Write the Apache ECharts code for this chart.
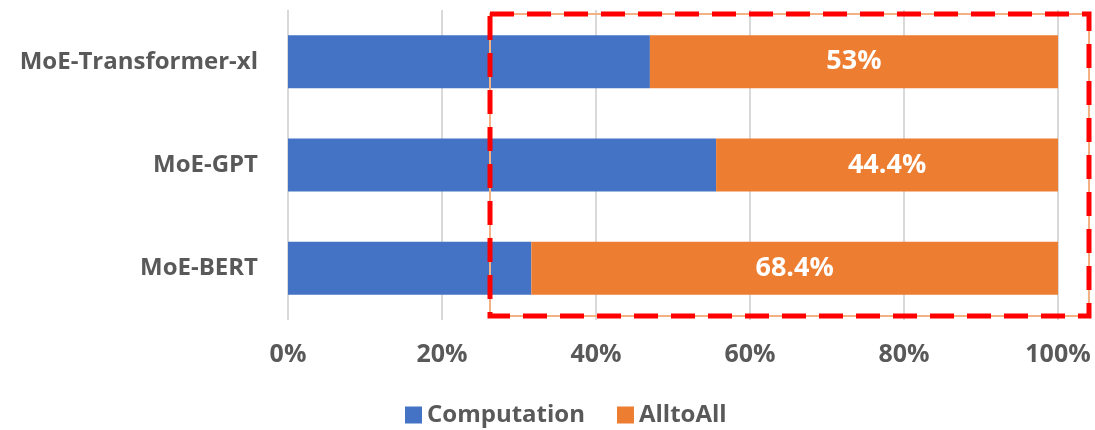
<!DOCTYPE html>
<html><head><meta charset="utf-8">
<script src="https://cdn.jsdelivr.net/npm/echarts@6/dist/echarts.min.js"></script>
<style>html,body{margin:0;padding:0;background:#fff}#c{width:1095px;height:430px}</style>
</head><body><div id="c"></div>
<script>
const categories = ['MoE-BERT', 'MoE-GPT', 'MoE-Transformer-xl'];
const computation = [31.6, 55.6, 47.0];
const alltoall = [68.4, 44.4, 53.0];
const alltoallLabels = ['68.4%', '44.4%', '53%'];
const seriesNames = ['Computation', 'AlltoAll'];

const chart = echarts.init(document.getElementById('c'));
const FONT = 'Open Sans';
chart.setOption({
  animation: false,
  grid: {left: 288, right: 37, top: 10, bottom: 110},
  legend: {
    top: 398, left: 400, itemWidth: 17, itemHeight: 17, itemGap: 32, itemTextGap: 8,
    icon: 'rect',
    textStyle: {fontFamily: FONT, fontWeight: 'bold', fontSize: 24, color: '#595959'},
    data: seriesNames
  },
  xAxis: {
    type: 'value', min: 0, max: 100, interval: 20,
    axisLine: {show: false}, axisTick: {show: false},
    splitLine: {lineStyle: {color: '#d9d9d9', width: 2}},
    axisLabel: {formatter: '{value}%', margin: 22, fontFamily: FONT, fontWeight: 'bold', fontSize: 25, color: '#595959'}
  },
  yAxis: {
    type: 'category', data: categories,
    axisLine: {show: false}, axisTick: {show: false},
    axisLabel: {margin: 30, fontFamily: FONT, fontWeight: 'bold', fontSize: 24, color: '#595959'}
  },
  series: [
    {name: seriesNames[0], type: 'bar', stack: 's', data: computation, barWidth: 53,
     itemStyle: {color: '#4472c4'}},
    {name: seriesNames[1], type: 'bar', stack: 's', data: alltoall, barWidth: 53,
     itemStyle: {color: '#ed7d31'},
     label: {show: true, position: 'inside', color: '#fff', fontFamily: FONT, fontWeight: 'bold', fontSize: 27,
       formatter: p => alltoallLabels[p.dataIndex]}}
  ],
  graphic: [
    {type: 'rect', shape: {x: 490, y: 14, width: 599, height: 302},
     style: {fill: 'none', stroke: '#f4b183', lineWidth: 2}, z: 100},
    {type: 'rect', shape: {x: 490, y: 14, width: 599, height: 302},
     style: {fill: 'none', stroke: '#ff0000', lineWidth: 5, lineDash: [24, 13]}, z: 101}
  ]
});
</script></body></html>
